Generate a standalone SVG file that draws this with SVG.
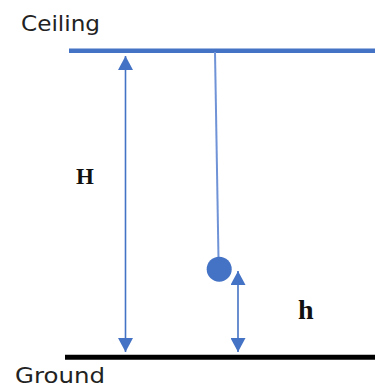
<svg xmlns="http://www.w3.org/2000/svg" width="375" height="390" viewBox="0 0 375 390">
  <style>
    .lbl { font-family: "DejaVu Sans", Verdana, sans-serif; font-size: 21px; fill: #222; }
    .var { font-family: "Liberation Serif", "Times New Roman", serif; font-weight: bold; fill: #111; }
    .dim { stroke: #4472C4; stroke-width: 1.6; fill: none; }
  </style>
  <defs>
    <marker id="ah" markerUnits="userSpaceOnUse" markerWidth="15" markerHeight="15" refX="14" refY="7.5" orient="auto-start-reverse">
      <path d="M0,0 L14,7.5 L0,15 Z" fill="#4472C4"/>
    </marker>
  </defs>
  <g id="ceiling">
    <line x1="69" y1="50.8" x2="375" y2="50.8" stroke="#4472C4" stroke-width="4.5"/>
    <text class="lbl" x="21" y="30.5" textLength="79" lengthAdjust="spacingAndGlyphs">Ceiling</text>
  </g>
  <g id="ground">
    <line x1="65" y1="357.2" x2="375" y2="357.2" stroke="#000" stroke-width="5"/>
    <text class="lbl" x="15" y="383" textLength="90" lengthAdjust="spacingAndGlyphs">Ground</text>
  </g>
  <g id="pendulum">
    <line x1="215" y1="52" x2="218.5" y2="259" stroke="#6f93d6" stroke-width="2"/>
    <circle cx="219.2" cy="269.2" r="12.5" fill="#4472C4"/>
  </g>
  <g id="connectors">
    <line class="dim" x1="125.5" y1="56" x2="125.5" y2="352" marker-start="url(#ah)" marker-end="url(#ah)"/>
    <line class="dim" x1="238" y1="271" x2="238" y2="352" marker-start="url(#ah)" marker-end="url(#ah)"/>
  </g>
  <g id="label-H">
    <text class="var" x="76" y="184" font-size="23">H</text>
  </g>
  <g id="label-h">
    <text class="var" x="298" y="319" font-size="28">h</text>
  </g>
</svg>
